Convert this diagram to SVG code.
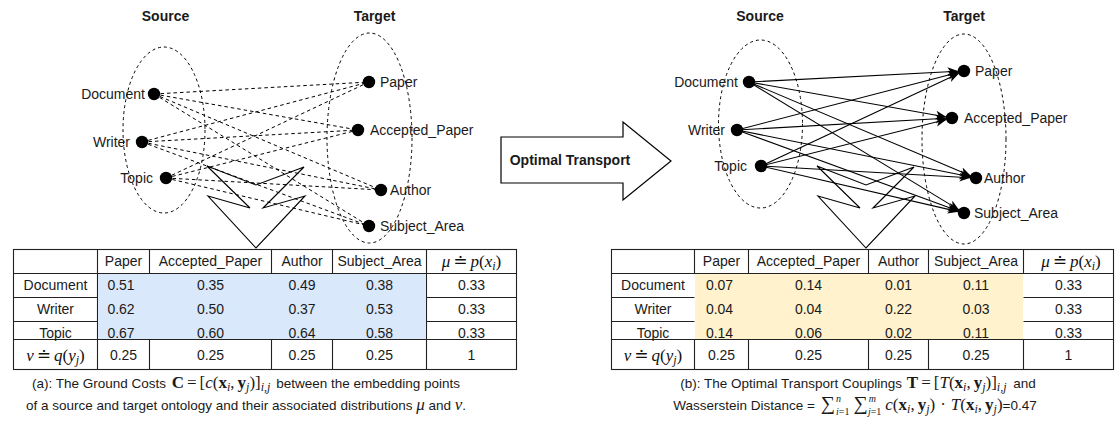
<svg xmlns="http://www.w3.org/2000/svg" width="1115" height="421" viewBox="0 0 1115 421">
<style>
.t{font-family:"Liberation Sans",Arial,sans-serif;font-size:14px;fill:#1a1a1a}
.b{font-weight:bold}
.m{font-family:"Liberation Serif","DejaVu Serif",serif;font-size:17px;fill:#111}
.cm{font-family:"Liberation Serif","DejaVu Serif",serif;font-size:17px}
.i{font-style:italic}
.bf{font-weight:bold}
.s{font-size:12px}
.l{font-size:10px}
.big{font-size:20px}
.cap{font-size:13.5px}
.ell{fill:none;stroke:#000;stroke-width:1;stroke-dasharray:3 3}
.dot{fill:#000}
.dash{stroke:#000;stroke-width:1;stroke-dasharray:3.5 3;fill:none}
.sol{stroke:#000;stroke-width:1.1;fill:none;marker-end:url(#ah)}
.fork{fill:none;stroke:#000;stroke-width:1.1}
.grid{stroke:#222;stroke-width:1.1;fill:none}
</style>
<defs>
<marker id="ah" markerUnits="userSpaceOnUse" markerWidth="12" markerHeight="10" refX="10.5" refY="4.5" orient="auto">
<path d="M0,0 L11,4.5 L0,9 L3,4.5 Z" fill="#000"/>
</marker>
</defs>
<rect width="1115" height="421" fill="#fff"/>

<!-- LEFT PANEL -->
<g id="left-titles">
<text class="t b" x="165.5" y="21" text-anchor="middle">Source</text>
<text class="t b" x="374.5" y="21" text-anchor="middle">Target</text>
</g>
<g id="left-source-group"><ellipse class="ell" cx="164" cy="130" rx="41" ry="83"/></g>
<g id="left-target-group"><ellipse class="ell" cx="369.5" cy="138" rx="42.5" ry="105"/></g>
<g id="left-fork"><polygon class="fork" points="207,166 256,185 304,167 263,208 305,196 256,248 208,196 250,208"/></g>
<g id="left-connectors">
<line class="dash" x1="154" y1="94" x2="369" y2="82"/>
<line class="dash" x1="154" y1="94" x2="358" y2="130"/>
<line class="dash" x1="154" y1="94" x2="381" y2="190"/>
<line class="dash" x1="154" y1="94" x2="369" y2="226"/>
<line class="dash" x1="142" y1="142" x2="369" y2="82"/>
<line class="dash" x1="142" y1="142" x2="358" y2="130"/>
<line class="dash" x1="142" y1="142" x2="381" y2="190"/>
<line class="dash" x1="142" y1="142" x2="369" y2="226"/>
<line class="dash" x1="166" y1="178" x2="369" y2="82"/>
<line class="dash" x1="166" y1="178" x2="358" y2="130"/>
<line class="dash" x1="166" y1="178" x2="381" y2="190"/>
<line class="dash" x1="166" y1="178" x2="369" y2="226"/>
</g>
<g id="L-Document"><circle class="dot" cx="154" cy="94" r="6.2"/><text class="t" x="145" y="99" text-anchor="end">Document</text></g>
<g id="L-Writer"><circle class="dot" cx="142" cy="142" r="6.2"/><text class="t" x="130" y="147" text-anchor="end">Writer</text></g>
<g id="L-Topic"><circle class="dot" cx="166" cy="178" r="6.2"/><text class="t" x="153" y="183" text-anchor="end">Topic</text></g>
<g id="L-Paper"><circle class="dot" cx="369" cy="82" r="6.2"/><text class="t" x="380" y="87">Paper</text></g>
<g id="L-Accepted_Paper"><circle class="dot" cx="358" cy="130" r="6.2"/><text class="t" x="370" y="135">Accepted_Paper</text></g>
<g id="L-Author"><circle class="dot" cx="381" cy="190" r="6.2"/><text class="t" x="390" y="195">Author</text></g>
<g id="L-Subject_Area"><circle class="dot" cx="369" cy="226" r="6.2"/><text class="t" x="380" y="231">Subject_Area</text></g>

<!-- LEFT TABLE -->
<g id="left-table">
<rect class="grid" x="13.5" y="249.5" width="503" height="120"/>
<path class="grid" d="M13.5,273.5H516.5 M13.5,339.5H516.5 M97.5,249.5V273.5 M149.5,249.5V273.5 M271.5,249.5V273.5 M332.5,249.5V273.5 M426.5,249.5V273.5 M97.5,273.5V339.5 M426.5,273.5V339.5 M13.5,297.5H97.5 M13.5,321.5H97.5 M426.5,297.5H516.5 M426.5,321.5H516.5 M97.5,339.5V369.5 M149.5,339.5V369.5 M271.5,339.5V369.5 M332.5,339.5V369.5 M426.5,339.5V369.5"/>
<rect x="98" y="274" width="328" height="65" fill="#dae8fc"/>
<g class="t" text-anchor="middle">
<text x="123.5" y="266">Paper</text><text x="210.5" y="266">Accepted_Paper</text><text x="302" y="266">Author</text><text x="379.5" y="266">Subject_Area</text>
<text x="55.5" y="290">Document</text><text x="55.5" y="314">Writer</text><text x="55.5" y="338">Topic</text>
<text x="121" y="290">0.51</text><text x="210.5" y="290">0.35</text><text x="302" y="290">0.49</text><text x="379.5" y="290">0.38</text><text x="471.5" y="290">0.33</text>
<text x="121" y="314">0.62</text><text x="210.5" y="314">0.50</text><text x="302" y="314">0.37</text><text x="379.5" y="314">0.53</text><text x="471.5" y="314">0.33</text>
<text x="121" y="338">0.67</text><text x="210.5" y="338">0.60</text><text x="302" y="338">0.64</text><text x="379.5" y="338">0.58</text><text x="471.5" y="338">0.33</text>
<text x="123.5" y="360">0.25</text><text x="210.5" y="360">0.25</text><text x="302" y="360">0.25</text><text x="379.5" y="360">0.25</text><text x="471.5" y="360">1</text>
</g>
<text class="m" x="471.5" y="267" text-anchor="middle"><tspan class="i">μ</tspan><tspan dx="3">≐</tspan><tspan class="i" dx="3">p</tspan>(<tspan class="i">x</tspan><tspan class="i s" dy="3">i</tspan><tspan dy="-3">)</tspan></text>
<text class="m" x="55.5" y="361" text-anchor="middle"><tspan class="i">ν</tspan><tspan dx="3">≐</tspan><tspan class="i" dx="3">q</tspan>(<tspan class="i">y</tspan><tspan class="i s" dy="3">j</tspan><tspan dy="-3">)</tspan></text>
</g>
<g id="left-caption">
<text class="t cap" x="246" y="388" text-anchor="middle">(a): The Ground Costs <tspan class="cm" dx="2"><tspan class="bf">C</tspan><tspan dx="3">=</tspan><tspan dx="3">[</tspan><tspan class="i">c</tspan>(<tspan class="bf">x</tspan><tspan class="i s" dy="3">i</tspan><tspan dy="-3">,</tspan><tspan class="bf" dx="3">y</tspan><tspan class="i s" dy="3">j</tspan><tspan dy="-3">)]</tspan><tspan class="i s" dy="3">i,j</tspan></tspan><tspan dy="-3" dx="2"> between the embedding points</tspan></text>
<text class="t cap" x="246" y="410" text-anchor="middle">of a source and target ontology and their associated distributions <tspan class="cm i">μ</tspan> and <tspan class="cm i">ν</tspan>.</text>
</g>

<!-- MIDDLE ARROW -->
<g id="optimal-transport">
<polygon points="501,137 623,137 623,122 671,161 623,200 623,183 501,183" fill="#fff" stroke="#000" stroke-width="1.2"/>
<text class="t b" x="570" y="165" text-anchor="middle">Optimal Transport</text>
</g>

<!-- RIGHT PANEL -->
<g id="right-titles">
<text class="t b" x="760" y="21" text-anchor="middle">Source</text>
<text class="t b" x="964" y="21" text-anchor="middle">Target</text>
</g>
<g id="right-source-group"><ellipse class="ell" cx="760.5" cy="124" rx="42" ry="84"/></g>
<g id="right-target-group"><ellipse class="ell" cx="964" cy="139" rx="42" ry="105"/></g>
<g id="right-fork"><polygon class="fork" points="817,166 866,185 914,167 873,208 915,196 866,248 818,196 860,208"/></g>
<g id="right-connectors">
<line class="sol" x1="749" y1="82" x2="958" y2="71.3"/>
<line class="sol" x1="749" y1="82" x2="946.1" y2="117"/>
<line class="sol" x1="749" y1="82" x2="970.5" y2="175.7"/>
<line class="sol" x1="749" y1="82" x2="958.9" y2="209.9"/>
<line class="sol" x1="737" y1="130" x2="958.2" y2="72.5"/>
<line class="sol" x1="737" y1="130" x2="946" y2="118.3"/>
<line class="sol" x1="737" y1="130" x2="970.1" y2="176.8"/>
<line class="sol" x1="737" y1="130" x2="958.4" y2="210.9"/>
<line class="sol" x1="761" y1="166" x2="958.6" y2="73.5"/>
<line class="sol" x1="761" y1="166" x2="946.2" y2="119.5"/>
<line class="sol" x1="761" y1="166" x2="970" y2="177.7"/>
<line class="sol" x1="761" y1="166" x2="958.2" y2="211.6"/>
</g>
<g id="R-Document"><circle class="dot" cx="749" cy="82" r="6.2"/><text class="t" x="738" y="87" text-anchor="end">Document</text></g>
<g id="R-Writer"><circle class="dot" cx="737" cy="130" r="6.2"/><text class="t" x="725" y="135" text-anchor="end">Writer</text></g>
<g id="R-Topic"><circle class="dot" cx="761" cy="166" r="6.2"/><text class="t" x="747" y="171" text-anchor="end">Topic</text></g>
<g id="R-Paper"><circle class="dot" cx="964" cy="71" r="6.2"/><text class="t" x="975" y="76">Paper</text></g>
<g id="R-Accepted_Paper"><circle class="dot" cx="952" cy="118" r="6.2"/><text class="t" x="964" y="123">Accepted_Paper</text></g>
<g id="R-Author"><circle class="dot" cx="976" cy="178" r="6.2"/><text class="t" x="984" y="183">Author</text></g>
<g id="R-Subject_Area"><circle class="dot" cx="964" cy="213" r="6.2"/><text class="t" x="974" y="218">Subject_Area</text></g>

<!-- RIGHT TABLE -->
<g id="right-table">
<rect class="grid" x="611.5" y="249.5" width="502" height="120"/>
<path class="grid" d="M611.5,273.5H1113.5 M611.5,339.5H1113.5 M694.5,249.5V273.5 M748.5,249.5V273.5 M868.5,249.5V273.5 M928.5,249.5V273.5 M1023.5,249.5V273.5 M611.5,297.5H694.5 M611.5,321.5H694.5 M1023.5,297.5H1113.5 M1023.5,321.5H1113.5 M694.5,339.5V369.5 M748.5,339.5V369.5 M868.5,339.5V369.5 M928.5,339.5V369.5 M1023.5,339.5V369.5"/>
<rect x="695" y="274" width="328" height="65" fill="#fff2cc"/>
<g class="t" text-anchor="middle">
<text x="721.5" y="266">Paper</text><text x="808.5" y="266">Accepted_Paper</text><text x="898.5" y="266">Author</text><text x="976" y="266">Subject_Area</text>
<text x="653" y="290">Document</text><text x="653" y="314">Writer</text><text x="653" y="338">Topic</text>
<text x="719.5" y="290">0.07</text><text x="808.5" y="290">0.14</text><text x="898.5" y="290">0.01</text><text x="976" y="290">0.11</text><text x="1068.5" y="290">0.33</text>
<text x="719.5" y="314">0.04</text><text x="808.5" y="314">0.04</text><text x="898.5" y="314">0.22</text><text x="976" y="314">0.03</text><text x="1068.5" y="314">0.33</text>
<text x="719.5" y="338">0.14</text><text x="808.5" y="338">0.06</text><text x="898.5" y="338">0.02</text><text x="976" y="338">0.11</text><text x="1068.5" y="338">0.33</text>
<text x="721.5" y="360">0.25</text><text x="808.5" y="360">0.25</text><text x="898.5" y="360">0.25</text><text x="976" y="360">0.25</text><text x="1068.5" y="360">1</text>
</g>
<text class="m" x="1071" y="267" text-anchor="middle"><tspan class="i">μ</tspan><tspan dx="3">≐</tspan><tspan class="i" dx="3">p</tspan>(<tspan class="i">x</tspan><tspan class="i s" dy="3">i</tspan><tspan dy="-3">)</tspan></text>
<text class="m" x="653" y="361" text-anchor="middle"><tspan class="i">ν</tspan><tspan dx="3">≐</tspan><tspan class="i" dx="3">q</tspan>(<tspan class="i">y</tspan><tspan class="i s" dy="3">j</tspan><tspan dy="-3">)</tspan></text>
</g>
<g id="right-caption">
<text class="t cap" x="858" y="388" text-anchor="middle">(b): The Optimal Transport Couplings <tspan class="cm" dx="1"><tspan class="bf">T</tspan><tspan dx="3">=</tspan><tspan dx="3">[</tspan><tspan class="i">T</tspan>(<tspan class="bf">x</tspan><tspan class="i s" dy="3">i</tspan><tspan dy="-3">,</tspan><tspan class="bf" dx="3">y</tspan><tspan class="i s" dy="3">j</tspan><tspan dy="-3">)]</tspan><tspan class="i s" dy="3">i,j</tspan></tspan><tspan dy="-3" dx="3"> and</tspan></text>
<text class="t cap" x="855" y="410" text-anchor="middle">Wasserstein Distance = <tspan class="cm" dx="2"><tspan class="big">∑</tspan><tspan class="i l" dy="-8" dx="1">n</tspan><tspan class="l" dx="-5" dy="13"><tspan class="i">i</tspan>=1</tspan><tspan class="big" dy="-5" dx="4">∑</tspan><tspan class="i l" dy="-8" dx="1">m</tspan><tspan class="l" dx="-8" dy="13"><tspan class="i">j</tspan>=1</tspan><tspan dy="-5" dx="4"><tspan class="i">c</tspan>(<tspan class="bf">x</tspan></tspan><tspan class="i s" dy="3">i</tspan><tspan dy="-3">,<tspan class="bf" dx="3">y</tspan></tspan><tspan class="i s" dy="3">j</tspan><tspan dy="-3">)<tspan dx="5">·</tspan><tspan class="i" dx="5">T</tspan>(<tspan class="bf">x</tspan></tspan><tspan class="i s" dy="3">i</tspan><tspan dy="-3">,<tspan class="bf" dx="3">y</tspan></tspan><tspan class="i s" dy="3">j</tspan><tspan dy="-3">)</tspan></tspan>=0.47</text>
</g>
</svg>
